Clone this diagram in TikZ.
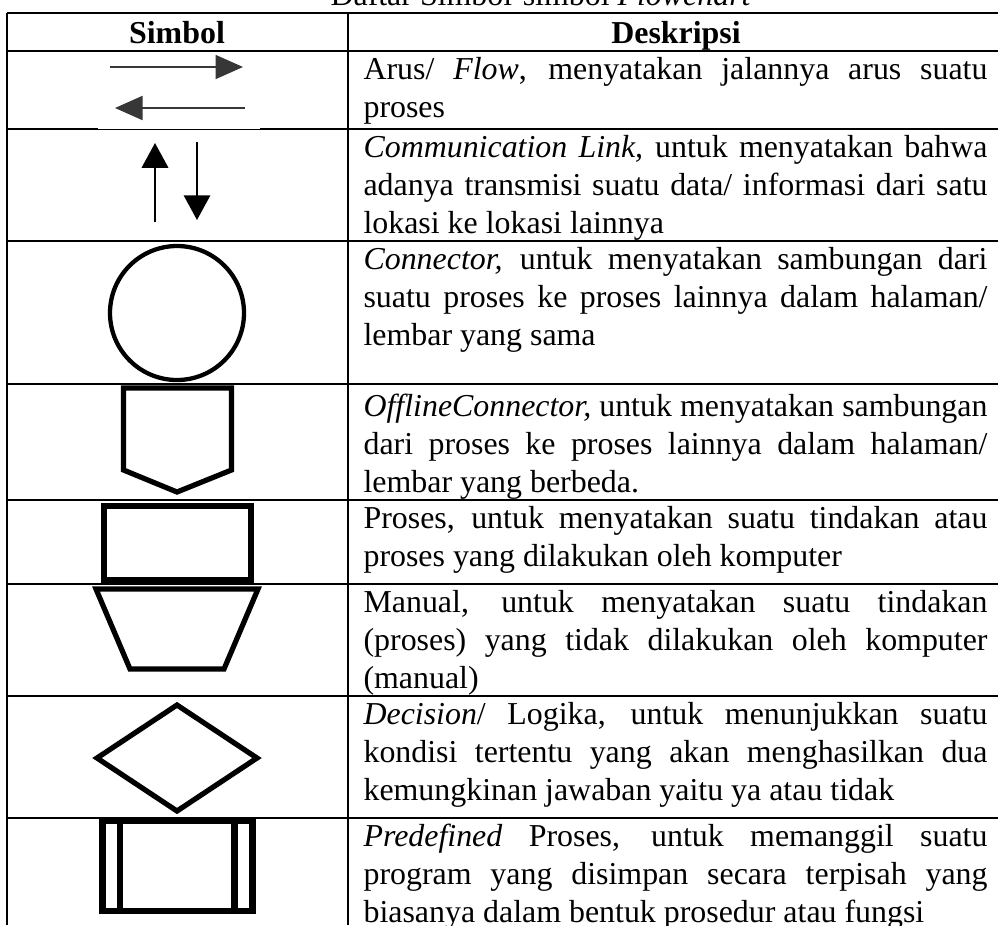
\documentclass[tikz,border=0pt]{standalone}
\usepackage{fontspec}
\setmainfont{Liberation Serif}
\usepackage{graphicx}
\usepackage{tikz}
\usetikzlibrary{arrows.meta}
\usepackage{xcolor}
\definecolor{arrowgray}{RGB}{55,55,55}

\tikzset{
  rule/.style={line width=1pt},
  symline/.style={line width=1.9pt,line join=miter},
  flowarrow/.style={arrowgray,line width=0.75pt,-{Triangle[length=10pt,width=8.7pt]}},
  commarrow/.style={black,line width=0.75pt,-{Triangle[length=9pt,width=9.6pt]}},
  desc/.style={anchor=north west,inner sep=0pt,align=left,font=\fontsize{11.6}{13.8}\selectfont},
  headtxt/.style={anchor=base,inner sep=0pt,font=\fontsize{11.6}{13.8}\selectfont\bfseries},
}
% one justified line of the description column
\newsavebox\jlbox
\newcommand{\jl}[1]{\sbox\jlbox{#1}%
  \ifdim\wd\jlbox>229pt \resizebox{226.9pt}{\height}{\usebox\jlbox}%
  \else\makebox[226.9pt][s]{#1}\fi}

\begin{document}
\begin{tikzpicture}[x=0.36364pt,y=-0.36364pt]
  \useasboundingbox (0,0) rectangle (998,925);
  \def\colx{348}
  % Title (cut at the top)
  \node[anchor=base west,inner sep=0pt,font=\fontsize{11.6}{13.8}\selectfont] (title) at (330,5.5) {Daftar Simbol-simbol \textit{Flowchart}};
  % Table rules
  \foreach \yr in {13,51,129,241,384,500,584,696,818}{
    \draw[rule] (7,\yr) -- (998,\yr);
  }
  \draw[rule] (7,13) -- (7,925);
  \draw[rule] (\colx,13) -- (\colx,925);
  % white patch of the arrow picture
  \fill[white] (98,51.5) rectangle (260,128.5);
  % Header
  \node[headtxt] (hsym) at (177,43) {Simbol};
  \node[headtxt] (hdesc) at (676,43) {Deskripsi};
  % Flow arrows
  \draw[flowarrow] (110,67) -- (243,67);
  \draw[flowarrow] (245,108) -- (115,108);
  % Communication link
  \draw[commarrow] (155,222) -- (155,143);
  \draw[commarrow] (197,142) -- (197,220);
  % Connector
  \draw[line width=1.56pt] (177,313) circle [radius=67];
  % Offline connector
  \draw[symline] (123.5,388) -- (231.5,388) -- (231.5,470) -- (177,492) -- (123.5,470) -- cycle;
  % Proses
  \draw[line width=2pt] (104,506) rectangle (251,580);
  % Manual
  \draw[symline] (96,589) -- (258,589) -- (224,669) -- (130,669) -- cycle;
  % Decision
  \draw[symline] (177,705) -- (257,758) -- (177,811) -- (97,758) -- cycle;
  % Predefined
  \draw[line width=2.2pt] (102.5,821) rectangle (252.5,911);
  \draw[line width=2.2pt] (120,821) -- (120,911);
  \draw[line width=2.2pt] (234.5,821) -- (234.5,911);
  % Descriptions
  \node[desc] (d1) at (363,52.5) {\strut\jl{Arus/ \textit{Flow}, menyatakan jalannya arus suatu}\\proses};
  \node[desc] (d2) at (363,130.5) {\strut\jl{\textit{Communication Link,} untuk menyatakan bahwa}\\\jl{adanya transmisi suatu data/ informasi dari satu}\\lokasi ke lokasi lainnya};
  \node[desc] (d3) at (363,242.5) {\strut\jl{\textit{Connector,} untuk menyatakan sambungan dari}\\\jl{suatu proses ke proses lainnya dalam halaman/}\\lembar yang sama};
  \node[desc] (d4) at (363,389.5) {\strut\jl{\textit{OfflineConnector,} untuk menyatakan sambungan}\\\jl{dari proses ke proses lainnya dalam halaman/}\\lembar yang berbeda.};
  \node[desc] (d5) at (363,501.5) {\strut\jl{Proses, untuk menyatakan suatu tindakan atau}\\proses yang dilakukan oleh komputer};
  \node[desc] (d6) at (363,585.5) {\strut\jl{Manual, untuk menyatakan suatu tindakan}\\\jl{(proses) yang tidak dilakukan oleh komputer}\\(manual)};
  \node[desc] (d7) at (363,697.5) {\strut\jl{\textit{Decision}/ Logika, untuk menunjukkan suatu}\\\jl{kondisi tertentu yang akan menghasilkan dua}\\kemungkinan jawaban yaitu ya atau tidak};
  \node[desc] (d8) at (363,819.5) {\strut\jl{\textit{Predefined} Proses, untuk memanggil suatu}\\\jl{program yang disimpan secara terpisah yang}\\biasanya dalam bentuk prosedur atau fungsi};
\end{tikzpicture}
\end{document}
